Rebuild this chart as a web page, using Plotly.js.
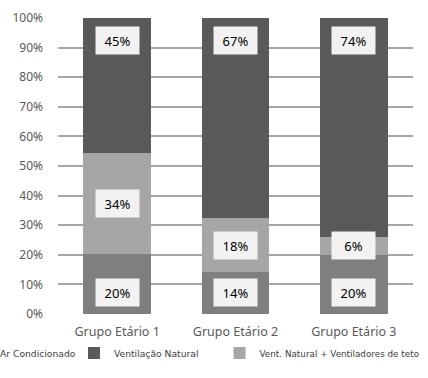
<!DOCTYPE html>
<html><head><meta charset="utf-8">
<script src="https://cdn.plot.ly/plotly-3.0.1.min.js"></script>
<style>html,body{margin:0;padding:0;background:#fff;}#chart{width:428px;height:378px;}</style>
</head><body><div id="chart"></div>
<script>
const categories = ['Grupo Etário 1', 'Grupo Etário 2', 'Grupo Etário 3'];
const arCondicionado = [20, 14, 20];
const ventNaturalVentiladores = [34, 18, 6];
const ventilacaoNatural = [45, 67, 74];
const seriesNames = ['Ar Condicionado', 'Vent. Natural + Ventiladores de teto', 'Ventilação Natural'];
const yTickVals = [0, 10, 20, 30, 40, 50, 60, 70, 80, 90, 100];
const yTickLabels = ['0%', '10%', '20%', '30%', '40%', '50%', '60%', '70%', '80%', '90%', '100%'];

const colors = ['#7f7f7f', '#a6a6a6', '#595959'];
const legendIds = ['legend', 'legend3', 'legend2'];
const series = [arCondicionado, ventNaturalVentiladores, ventilacaoNatural];

const traces = series.map((vals, i) => ({
  type: 'bar', x: categories, y: vals, name: seriesNames[i],
  marker: {color: colors[i], line: {width: 0}},
  legend: legendIds[i], hoverinfo: 'none'
}));

// label positions derived from the normalised stack: bottom near base, middle centred, top near top
const annotations = [];
categories.forEach((c, j) => {
  const tot = arCondicionado[j] + ventNaturalVentiladores[j] + ventilacaoNatural[j];
  const b = arCondicionado[j] / tot * 100, m = ventNaturalVentiladores[j] / tot * 100;
  const ys = [7.4, b + m / 2, 100 - 7.5];
  [arCondicionado[j], ventNaturalVentiladores[j], ventilacaoNatural[j]].forEach((v, i) => {
    annotations.push({
      x: c, y: ys[i], xref: 'x', yref: 'y', text: v + '%', showarrow: false,
      bgcolor: '#f2f2f2', width: 39, height: 23, borderpad: 2,
      font: {family: 'Noto Sans, sans-serif', size: 13, color: '#000'}
    });
  });
});

function legendAt(x, size) {
  return {orientation: 'h', x: x, xanchor: 'left', y: -0.132, yanchor: 'middle',
          bgcolor: 'rgba(0,0,0,0)',
          font: {family: 'DejaVu Sans', stretch: 'condensed', size: size, color: '#404040'},
          itemwidth: 30};
}

const layout = {
  width: 428, height: 378,
  margin: {l: 58, r: 15, t: 18, b: 64, autoexpand: false},
  paper_bgcolor: '#fff', plot_bgcolor: '#fff',
  barmode: 'stack', barnorm: 'percent', bargap: 0.43,
  font: {family: 'Noto Sans, sans-serif', size: 12, color: '#595959'},
  xaxis: {showgrid: false, zeroline: false, showline: false, ticks: '',
          ticklabelstandoff: 8, tickfont: {size: 12.5, color: '#595959'}},
  yaxis: {range: [0, 100], tickvals: yTickVals, ticktext: yTickLabels, showgrid: true,
          gridcolor: '#a6a6a6', gridwidth: 2, zeroline: false, showline: false,
          ticks: '', ticklabelstandoff: 14, tickfont: {size: 12, color: '#595959'}},
  showlegend: true,
  legend: legendAt(-0.276, 9.2),
  legend2: legendAt(0.045, 9.2),
  legend3: legendAt(0.455, 8.8),
  annotations: annotations
};
Plotly.newPlot('chart', traces, layout, {displayModeBar: false, staticPlot: true});
</script></body></html>
